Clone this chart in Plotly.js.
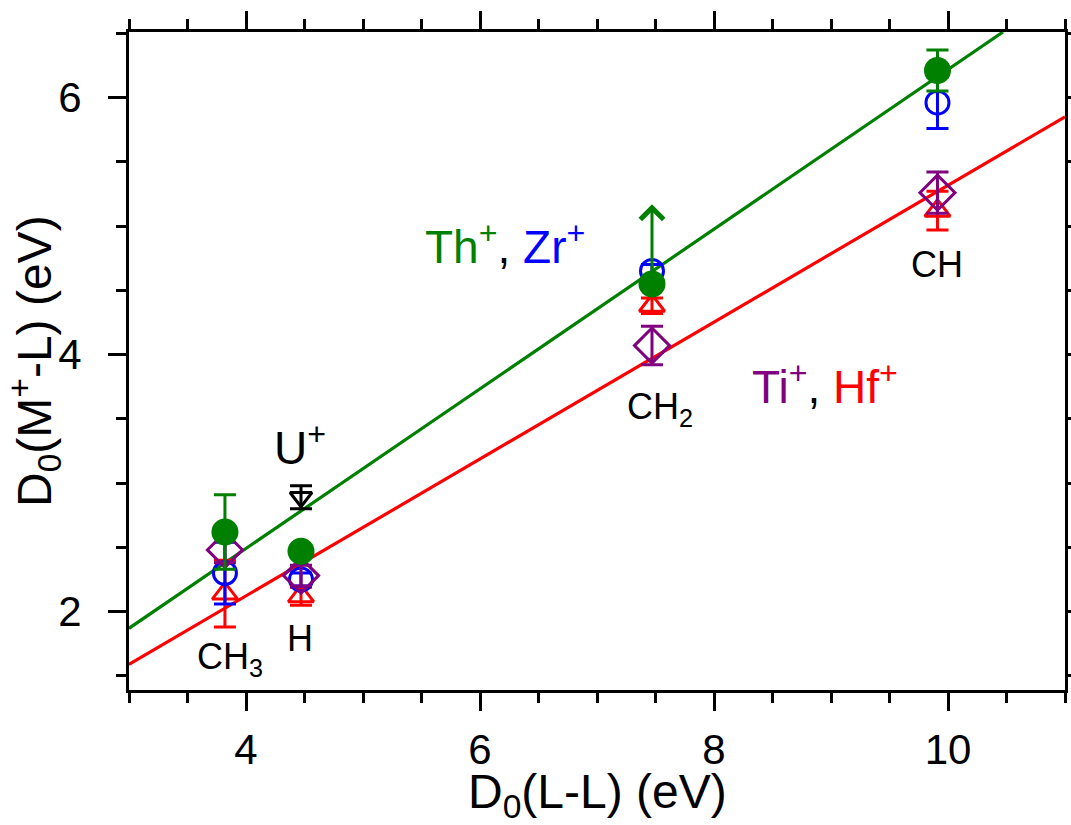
<!DOCTYPE html>
<html>
<head>
<meta charset="utf-8">
<script src="https://cdn.plot.ly/plotly-3.0.1.min.js"></script>
<style>html,body{margin:0;padding:0;background:#fff;}#chart{width:1071px;height:825px;}</style>
</head>
<body>
<div id="chart"></div>
<script>
// Ligand bond energies D0(L-L) (eV): CH3, H, CH2, CH
var ligandX = [3.82, 4.47, 7.47, 9.91];
var ligandNames = ['CH3', 'H', 'CH2', 'CH'];

// D0(M+-L) (eV) and uncertainties
var thY   = [2.62, 2.47, 4.55, 6.21];
var thErr = [0.29, 0.00, 0.00, 0.16];
var zrY   = [2.30, 2.25, 4.65, 5.96];
var zrErr = [0.24, 0.05, 0.05, 0.20];
var hfY   = [2.14, 2.12, 4.38, 5.12];
var hfErr = [0.26, 0.07, 0.06, 0.15];
var tiY   = [2.48, 2.28, 4.07, 5.26];
var tiErr = [0.10, 0.08, 0.15, 0.16];
var uX    = [4.47];
var uY    = [2.89];
var uErr  = [0.09];

// Th+ CH2 lower limit (arrow tip)
var thCH2Limit = 5.17;

// Fit lines
var greenLineX = [3.0, 10.47];
var greenLineY = [1.87, 6.51];
var redLineX   = [3.0, 11.0];
var redLineY   = [1.59, 5.85];

var GREEN = '#008000', BLUE = '#0000ff', RED = '#ff0000', PURPLE = '#800080';
var FAM = 'Liberation Sans, Arial, sans-serif';

function errs(arr, col) {
  return {type: 'data', array: arr, visible: true, color: col, thickness: 3, width: 11};
}

var traces = [
  {x: greenLineX, y: greenLineY, mode: 'lines', line: {color: GREEN, width: 3.2}, hoverinfo: 'skip'},
  {x: redLineX, y: redLineY, mode: 'lines', line: {color: RED, width: 3.2}, hoverinfo: 'skip'},
  {x: ligandX, y: hfY, mode: 'markers', error_y: errs(hfErr, RED),
   marker: {symbol: 'triangle-up-open', size: 22, color: RED, line: {width: 3, color: RED}}},
  {x: ligandX, y: zrY, mode: 'markers', error_y: errs(zrErr, BLUE),
   marker: {symbol: 'circle-open', size: 23, color: BLUE, line: {width: 3, color: BLUE}}},
  {x: ligandX, y: tiY, mode: 'markers', error_y: errs(tiErr, PURPLE),
   marker: {symbol: 'diamond-open', size: 27, color: PURPLE, line: {width: 3, color: PURPLE}}},
  {x: ligandX, y: thY, mode: 'markers', error_y: errs(thErr, GREEN),
   marker: {symbol: 'circle', size: 27, color: GREEN, line: {width: 0}}},
  {x: uX, y: uY, mode: 'markers', error_y: errs(uErr, '#000'),
   marker: {symbol: 'triangle-down-open', size: 19, color: '#000', line: {width: 3, color: '#000'}}}
];

var labelFont = {family: FAM, size: 36, color: '#000'};
var bigFont = {family: FAM, size: 46, color: '#000'};
var titleFont = {family: FAM, size: 48, color: '#000'};

var annotations = [
  {x: ligandX[2], y: thCH2Limit, ax: ligandX[2], ay: thY[2], xref: 'x', yref: 'y', axref: 'x', ayref: 'y',
   text: '', showarrow: true, arrowhead: 4, arrowsize: 1.5, arrowwidth: 3, arrowcolor: GREEN, standoff: 0, startstandoff: 0},
  {x: 3.86, y: 1.63, xref: 'x', yref: 'y', text: 'CH<sub>3</sub>', showarrow: false, font: labelFont},
  {x: 4.46, y: 1.79, xref: 'x', yref: 'y', text: 'H', showarrow: false, font: labelFont},
  {x: 7.54, y: 3.58, xref: 'x', yref: 'y', text: 'CH<sub>2</sub>', showarrow: false, font: labelFont},
  {x: 9.91, y: 4.70, xref: 'x', yref: 'y', text: 'CH', showarrow: false, font: labelFont},
  {x: 4.46, y: 3.30, xref: 'x', yref: 'y', text: 'U<sup>+</sup>', showarrow: false, font: bigFont},
  {x: 6.21, y: 4.86, xref: 'x', yref: 'y', showarrow: false, font: bigFont,
   text: '<span style="color:' + GREEN + '">Th<sup>+</sup></span>, <span style="color:' + BLUE + '">Zr<sup>+</sup></span>'},
  {x: 8.95, y: 3.77, xref: 'x', yref: 'y', showarrow: false, font: bigFont,
   text: '<span style="color:' + PURPLE + '">Ti<sup>+</sup></span>, <span style="color:' + RED + '">Hf<sup>+</sup></span>'},
  // axis titles
  {x: 0.5, y: 0, xref: 'paper', yref: 'paper', xanchor: 'center', yanchor: 'bottom', yshift: -137, showarrow: false,
   text: 'D<sub>0</sub>(L-L) (eV)', font: titleFont},
  {x: 0, y: 0.5, xref: 'paper', yref: 'paper', xanchor: 'center', yanchor: 'middle', xshift: -95, showarrow: false,
   textangle: -90, text: 'D<sub>0</sub>(M<sup>+</sup>-L) (eV)', font: titleFont}
];

var tickFont = {family: FAM, size: 42, color: '#000'};

var layout = {
  width: 1071, height: 825,
  margin: {l: 129, r: 6, t: 32, b: 135},
  paper_bgcolor: '#fff', plot_bgcolor: '#fff',
  showlegend: false,
  font: tickFont,
  xaxis: {
    range: [3, 11], tickvals: [4, 6, 8, 10], ticktext: ['4', '6', '8', '10'],
    showline: true, linewidth: 3, linecolor: '#000', mirror: 'allticks',
    ticks: 'outside', ticklen: 18, tickwidth: 3, tickcolor: '#000',
    ticklabelstandoff: 3,
    minor: {dtick: 0.5, tick0: 3, ticks: 'outside', ticklen: 10, tickwidth: 3, tickcolor: '#000', showgrid: false},
    showgrid: false, zeroline: false,
    tickfont: tickFont
  },
  yaxis: {
    range: [1.39, 6.51], tickvals: [2, 4, 6], ticktext: ['2', '4', '6'],
    showline: true, linewidth: 3, linecolor: '#000', mirror: 'allticks',
    ticks: 'outside', ticklen: 18, tickwidth: 3, tickcolor: '#000',
    ticklabelstandoff: 18,
    minor: {dtick: 0.5, tick0: 1.5, ticks: 'outside', ticklen: 10, tickwidth: 3, tickcolor: '#000', showgrid: false},
    showgrid: false, zeroline: false,
    tickfont: tickFont
  },
  annotations: annotations
};

Plotly.newPlot('chart', traces, layout, {displayModeBar: false, staticPlot: true});
</script>
</body>
</html>
